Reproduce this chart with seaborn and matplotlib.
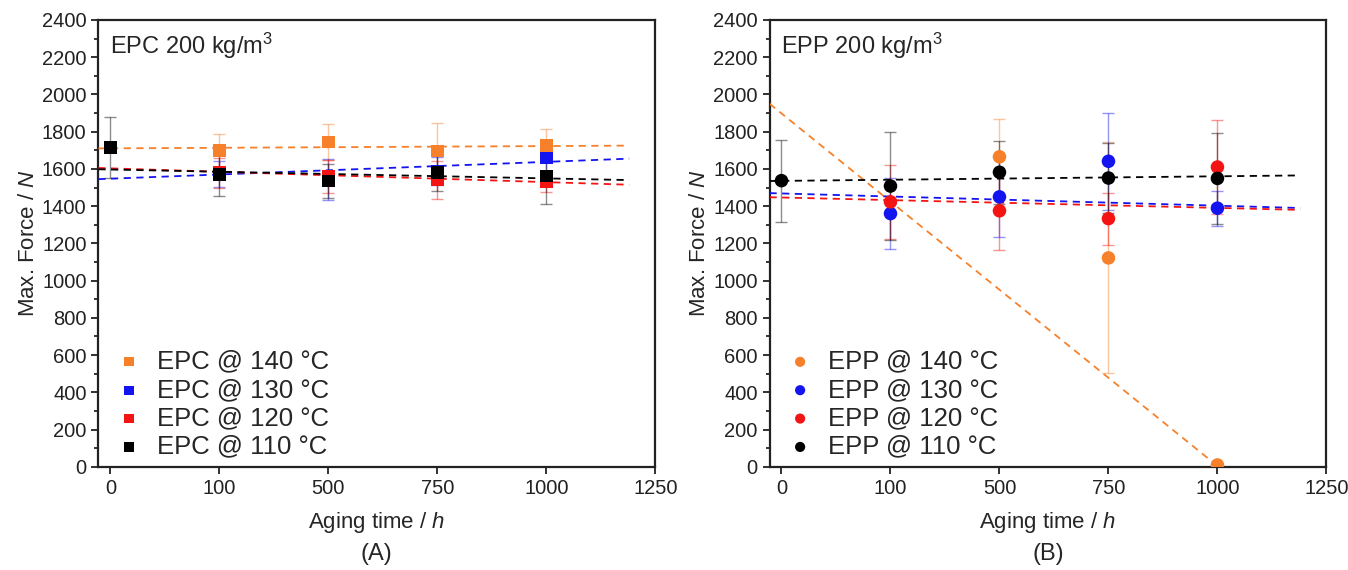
import numpy as np
import pandas as pd
import matplotlib.pyplot as plt
import seaborn as sns

sns.set_theme(style='ticks')
plt.rcParams['font.family'] = ['Liberation Sans', 'DejaVu Sans']
plt.rcParams['mathtext.fontset'] = 'custom'
plt.rcParams['mathtext.rm'] = 'Liberation Sans'
plt.rcParams['mathtext.it'] = 'Liberation Sans:italic'

# aging times (categorical, evenly spaced on the axis)
times = ['0', '100', '500', '750', '1000']
tick_labels = ['0', '100', '500', '750', '1000', '1250']
temps = ['140', '130', '120', '110']
colors = {'140': '#F7812A', '130': '#1414F0', '120': '#F41414', '110': '#000000'}

# EPC 200 kg/m3 - mean max force and error
epc_mean = {
    '140': [np.nan, 1700, 1745, 1695, 1725],
    '130': [np.nan, 1575, 1545, 1590, 1660],
    '120': [np.nan, 1580, 1560, 1540, 1530],
    '110': [1715, 1570, 1535, 1580, 1562],
}
epc_err = {
    '140': [np.nan, 90, 95, 150, 90],
    '130': [np.nan, 70, 110, 75, 70],
    '120': [np.nan, 80, 90, 100, 55],
    '110': [165, 117, 90, 100, 150],
}
# trend line values at left edge and right end
epc_trend_start = {'140': 1710, '130': 1545, '120': 1605, '110': 1598}
epc_trend_end = {'140': 1725, '130': 1655, '120': 1515, '110': 1540}

# EPP 200 kg/m3
epp_mean = {
    '140': [np.nan, np.nan, 1665, 1122, 10],
    '130': [np.nan, 1360, 1450, 1641, 1389],
    '120': [np.nan, 1423, 1375, 1333, 1610],
    '110': [1537, 1508, 1582, 1551, 1549],
}
epp_err = {
    '140': [np.nan, np.nan, 205, 620, 0],
    '130': [np.nan, 192, 215, 260, 95],
    '120': [np.nan, 200, 212, 140, 252],
    '110': [220, 290, 170, 187, 245],
}
epp_trend_start = {'140': 1950, '130': 1470, '120': 1448, '110': 1535}
epp_trend_end = {'140': -355, '130': 1390, '120': 1380, '110': 1565}

trend_x = [-0.11, 4.76]

fig, axes = plt.subplots(1, 2, figsize=(13.48, 5.70), dpi=100)
fig.subplots_adjust(left=0.073, right=0.984, bottom=0.181, top=0.965, wspace=0.205)


def draw_panel(ax, name, marker, msize, mean, err, t_start, t_end):
    pos = np.arange(len(times))
    for t in temps:
        c = colors[t]
        y = np.array(mean[t], dtype=float)
        e = np.array(err[t], dtype=float)
        ok = ~np.isnan(y)
        ax.errorbar(pos[ok], y[ok], yerr=e[ok], fmt='none', ecolor=c, alpha=0.45,
                    elinewidth=1, capsize=4, capthick=1, zorder=2)
        tr = pd.DataFrame({'x': trend_x, 'y': [t_start[t], t_end[t]]})
        sns.lineplot(data=tr, x='x', y='y', ax=ax, color=c, linestyle=(0, (4, 3)),
                     linewidth=1.3, zorder=3)
    for t in temps:
        df = pd.DataFrame({'x': np.arange(len(times)), 'y': mean[t]}).dropna()
        sns.scatterplot(data=df, x='x', y='y', ax=ax, color=colors[t], marker=marker,
                        s=msize, edgecolor='none', zorder=4,
                        label=f'{name} @ {t} °C')
    ax.set_xlim(-0.11, 5)
    ax.set_ylim(0, 2400)
    ax.set_xticks(range(len(tick_labels)))
    ax.set_xticklabels(tick_labels)
    ax.set_yticks(range(0, 2401, 200))
    ax.set_yticks(range(100, 2400, 200), minor=True)
    ax.tick_params(axis='both', which='major', labelsize=14.5, length=5, width=1.3,
                   direction='out', colors='#222222', labelcolor='#222222')
    ax.tick_params(axis='y', which='minor', length=3, width=1.3, direction='out')
    for sp in ax.spines.values():
        sp.set_linewidth(1.6)
        sp.set_color('#222222')
    ax.set_xlabel('Aging time / $\\it{h}$', fontsize=16, labelpad=9)
    ax.set_ylabel('Max. Force / $\\it{N}$', fontsize=16, labelpad=2)
    ax.text(0.02, 0.975, f'{name} 200 kg/m$^3$', transform=ax.transAxes,
            fontsize=17, va='top', ha='left')
    ax.legend(loc='lower left', frameon=False, fontsize=18.5, handletextpad=0.5,
              handlelength=1.2, labelspacing=0.17, borderaxespad=0.3,
              markerscale=0.75, bbox_to_anchor=(-0.005, -0.022))


draw_panel(axes[0], 'EPC', 's', 80, epc_mean, epc_err, epc_trend_start, epc_trend_end)
draw_panel(axes[1], 'EPP', 'o', 95, epp_mean, epp_err, epp_trend_start, epp_trend_end)

for ax, lab in zip(axes, ['(A)', '(B)']):
    bb = ax.get_position()
    fig.text((bb.x0 + bb.x1) / 2, 0.028, lab, ha='center', va='center', fontsize=17)

fig.savefig('out.png', dpi=100)
